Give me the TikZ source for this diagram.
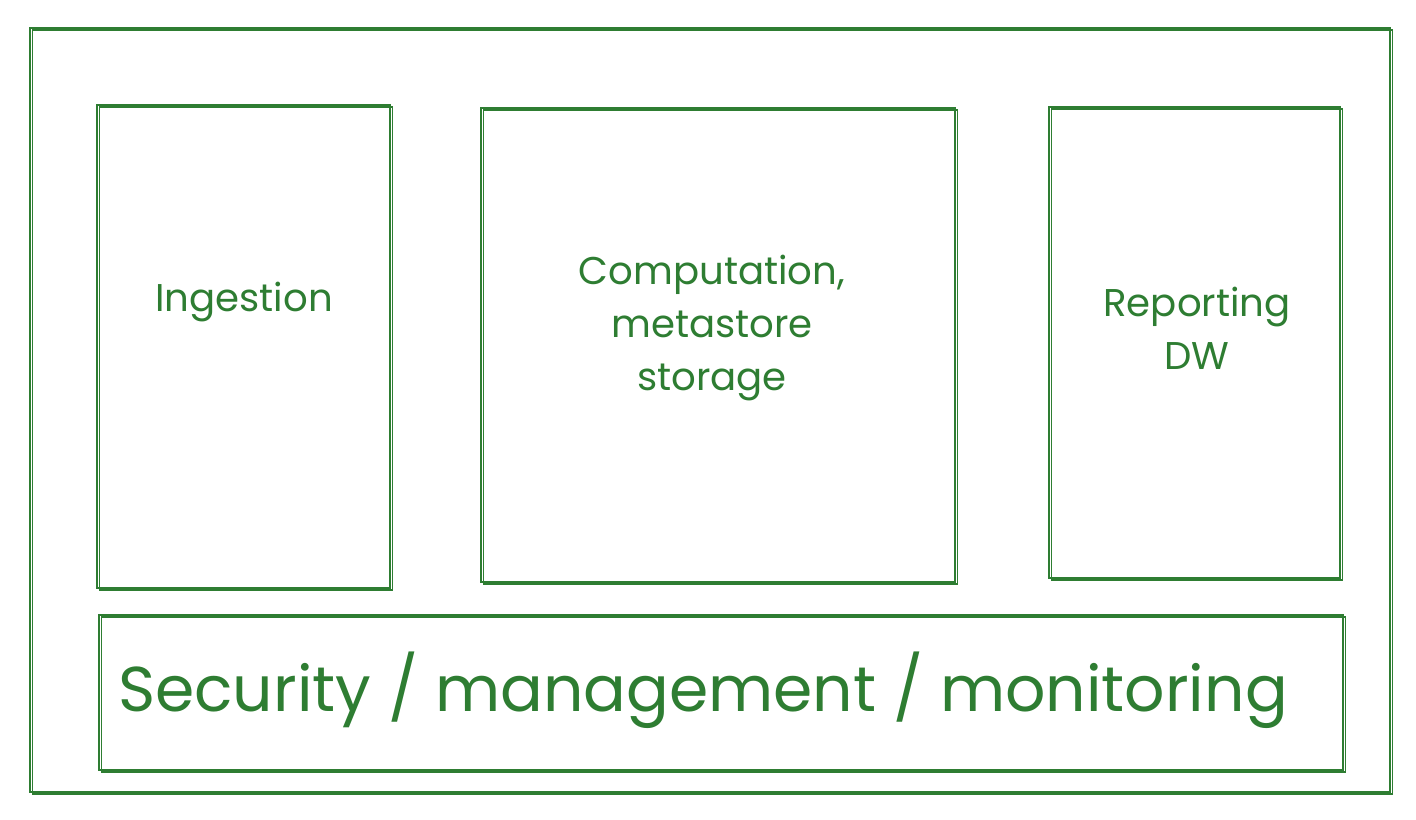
\documentclass[tikz,border=0pt]{standalone}
\usepackage{fontspec}
\setmainfont{Poppins}
\usepackage{tikz}
\definecolor{sketch}{HTML}{2E7D32}

\begin{document}
\begin{tikzpicture}
        \tikzstyle{frame} = [draw=sketch,line width=1.5pt,rectangle,inner sep=0pt,
            postaction={draw=sketch,line width=0.7pt,transform canvas={shift={(1.5pt,-1.2pt)}}}]
        \tikzstyle{label} = [text=sketch,align=center,font=\fontsize{22}{30}\selectfont]

        \useasboundingbox (0,0) rectangle (28.32,16.4);
        \node[frame,minimum width=27.2cm,minimum height=15.28cm] (outer) at (14.2,8.2) {};
        \node[frame,minimum width=5.86cm,minimum height=9.66cm] (ingest) at (4.87,9.47) {};
        \node[frame,minimum width=9.48cm,minimum height=9.48cm] (compute) at (14.36,9.5) {};
        \node[frame,minimum width=5.82cm,minimum height=9.42cm] (report) at (23.89,9.55) {};
        \node[frame,minimum width=24.88cm,minimum height=3.1cm] (security) at (14.42,2.55) {};

        \node[label] (ingestText) at (4.88,10.36) {Ingestion};
        \node[label] (computeText) at (14.24,9.84) {Computation,\\metastore\\storage};
        \node[label] (reportText) at (23.94,9.84) {Reporting\\DW};
        \node[label,font=\fontsize{36}{44}\selectfont] (securityText) at (14.06,2.6) {Security / management / monitoring};
    \end{tikzpicture}
\end{document}
